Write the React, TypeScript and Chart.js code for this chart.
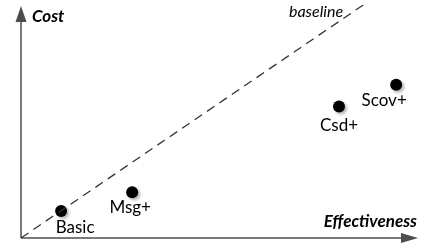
import React, { useEffect, useRef } from "react";
import { Chart, registerables } from "chart.js";

Chart.register(...registerables);

const labels = ["Basic", "Msg+", "Csd+", "Scov+"];
const effectiveness = [10.1, 28.0, 80.1, 94.5];
const cost = [11.6, 19.7, 56.7, 66.1];
const baselineX = [0, 86.6];
const baselineY = [0, 100.9];
const axisTitleX = "Effectiveness";
const axisTitleY = "Cost";
const baselineLabel = "baseline";

const FONT = "Lato, 'Liberation Sans', sans-serif";

const shadowPlugin = {
  id: "pointShadow",
  beforeDatasetDraw(chart: any, args: any) {
    if (args.index !== 1) return;
    const ctx = chart.ctx;
    ctx.save();
    ctx.shadowColor = "rgba(0,0,0,0.3)";
    ctx.shadowBlur = 3;
    ctx.shadowOffsetX = 2;
    ctx.shadowOffsetY = 2;
  },
  afterDatasetDraw(chart: any, args: any) {
    if (args.index !== 1) return;
    chart.ctx.restore();
  },
};

const decorPlugin = {
  id: "decor",
  beforeDatasetsDraw(chart: any) {
    const { ctx, chartArea } = chart;
    const { left, right, top, bottom } = chartArea;
    ctx.save();
    ctx.strokeStyle = "#4d4d4d";
    ctx.fillStyle = "#4d4d4d";
    ctx.lineWidth = 1.5;
    // y axis
    ctx.beginPath();
    ctx.moveTo(left, bottom);
    ctx.lineTo(left, top + 14);
    ctx.stroke();
    ctx.beginPath();
    ctx.moveTo(left, top);
    ctx.lineTo(left - 5.5, top + 16);
    ctx.lineTo(left + 5.5, top + 16);
    ctx.closePath();
    ctx.fill();
    // x axis
    ctx.beginPath();
    ctx.moveTo(left, bottom);
    ctx.lineTo(right - 15, bottom);
    ctx.stroke();
    ctx.beginPath();
    ctx.moveTo(right, bottom);
    ctx.lineTo(right - 17, bottom - 5);
    ctx.lineTo(right - 17, bottom + 5);
    ctx.closePath();
    ctx.fill();
    ctx.restore();
  },
  afterDatasetsDraw(chart: any) {
    const { ctx, chartArea } = chart;
    const { left, right, top, bottom } = chartArea;
    ctx.save();
    ctx.fillStyle = "#000";
    ctx.textBaseline = "middle";
    ctx.font = `italic bold 17px ${FONT}`;
    ctx.textAlign = "left";
    ctx.fillText(axisTitleY, left + 11, top + 11);
    ctx.textAlign = "right";
    ctx.fillText(axisTitleX, right - 1, bottom - 16);
    ctx.font = `italic 16px ${FONT}`;
    ctx.textAlign = "center";
    ctx.fillText(baselineLabel, 316, 12);

    const offs = [
      [14, 16],
      [-2, 15],
      [0, 19],
      [-12, 16],
    ];
    ctx.font = `17px ${FONT}`;
    const meta = chart.getDatasetMeta(1);
    meta.data.forEach((pt: any, i: number) => {
      ctx.fillText(labels[i], pt.x + offs[i][0], pt.y + offs[i][1]);
    });
    ctx.restore();
  },
};

export default function App() {
  const ref = useRef<HTMLCanvasElement>(null);
  useEffect(() => {
    const chart = new Chart(ref.current!, {
      type: "scatter",
      data: {
        datasets: [
          {
            type: "line",
            data: baselineX.map((x, i) => ({ x, y: baselineY[i] })),
            borderColor: "#333",
            borderWidth: 1.3,
            borderDash: [9, 6],
            pointRadius: 0,
            clip: false as any,
            showLine: true,
          },
          {
            data: effectiveness.map((x, i) => ({ x, y: cost[i] })),
            backgroundColor: "#000",
            borderColor: "#000",
            pointRadius: 6,
            pointBorderWidth: 0,
          },
        ],
      },
      options: {
        responsive: false,
        animation: false,
        layout: { padding: { left: 21, right: 6, top: 5, bottom: 11 } },
        plugins: { legend: { display: false }, tooltip: { enabled: false } },
        scales: {
          x: { type: "linear", min: 0, max: 100, display: false },
          y: { type: "linear", min: 0, max: 100, display: false },
        },
      },
      plugins: [shadowPlugin, decorPlugin],
    });
    return () => chart.destroy();
  }, []);
  return (
    <div style={{ position: "fixed", left: 0, top: 0, width: 424, height: 249, background: "#fff" }}>
      <canvas ref={ref} width={424} height={249} />
    </div>
  );
}
